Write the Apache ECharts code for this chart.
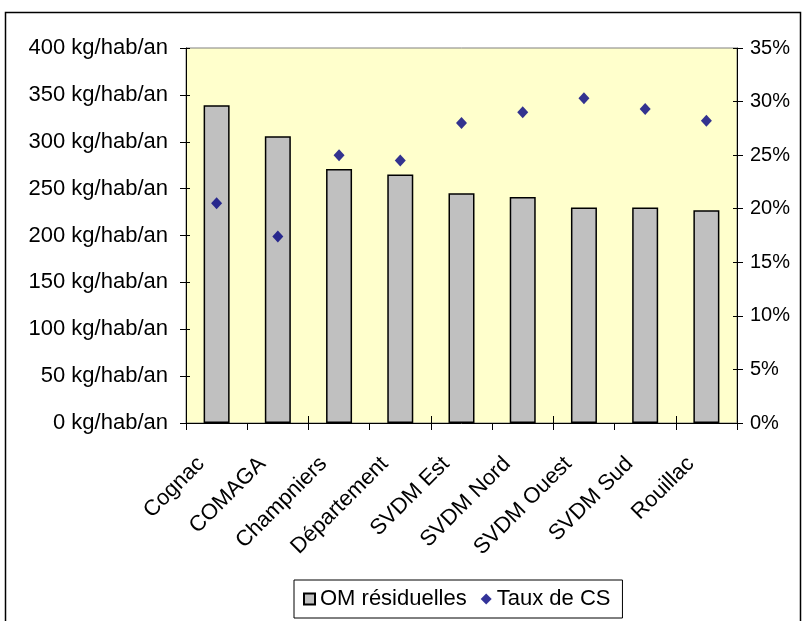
<!DOCTYPE html>
<html>
<head>
<meta charset="utf-8">
<script src="https://cdn.jsdelivr.net/npm/echarts@6/dist/echarts.min.js"></script>
<style>
  html, body { margin: 0; padding: 0; background: #ffffff; }
  #chart { width: 807px; height: 621px; }
</style>
</head>
<body>
<div id="chart"></div>
<script>
// Collectivités comparées
const categories = ['Cognac', 'COMAGA', 'Champniers', 'Département', 'SVDM Est', 'SVDM Nord', 'SVDM Ouest', 'SVDM Sud', 'Rouillac'];
// Ordures ménagères résiduelles (kg/hab/an)
const omResiduelles = [339, 306, 271, 265, 245, 241, 230, 230, 227];
// Taux de collecte sélective (%)
const tauxCS = [20.5, 17.4, 25.0, 24.5, 28.0, 29.0, 30.3, 29.3, 28.2];
// Graduations des axes
const leftTicks = [0, 50, 100, 150, 200, 250, 300, 350, 400];
const rightTicks = [0, 5, 10, 15, 20, 25, 30, 35];

const FONT = '"Liberation Sans", Arial, sans-serif';
const chart = echarts.init(document.getElementById('chart'), null, { renderer: 'canvas' });

const leftMax = leftTicks[leftTicks.length - 1];
const leftStep = leftTicks[1] - leftTicks[0];
const rightMax = rightTicks[rightTicks.length - 1];
const rightStep = rightTicks[1] - rightTicks[0];

const tickStyle = { color: '#000', width: 1 };

chart.setOption({
  animation: false,
  backgroundColor: '#ffffff',
  textStyle: { fontFamily: FONT },
  graphic: [
    {
      type: 'rect',
      shape: { x: 5.5, y: 12.5, width: 795, height: 640 },
      style: { fill: 'none', stroke: '#000', lineWidth: 1.5 },
      silent: true,
      z: 100
    }
  ],
  grid: {
    left: 186, right: 70, top: 48, bottom: 198,
    show: true,
    backgroundColor: '#FFFFCC',
    borderColor: '#808080',
    borderWidth: 1
  },
  legend: {
    left: 294, top: 580,
    padding: [8, 12, 8, 9],
    backgroundColor: '#fff',
    borderColor: '#000',
    borderWidth: 1,
    itemGap: 14,
    itemWidth: 11, itemHeight: 11,
    textStyle: { fontFamily: FONT, fontSize: 22, color: '#000' },
    data: [
      { name: 'OM résiduelles', icon: 'rect' },
      { name: 'Taux de CS', icon: 'diamond' }
    ]
  },
  xAxis: [
    {
      type: 'category',
      data: categories,
      position: 'bottom',
      axisLine: { show: true, lineStyle: { color: '#000', width: 1 } },
      axisTick: { show: true, inside: false, length: 7, lineStyle: tickStyle },
      axisLabel: {
        rotate: 45, margin: 22, color: '#000',
        fontFamily: FONT, fontSize: 22, interval: 0,
        padding: [0, 22, 0, 0]
      },
      splitLine: { show: false }
    },
    {
      type: 'category',
      data: categories,
      position: 'bottom',
      axisLine: { show: false },
      axisTick: { show: true, inside: true, length: 7, lineStyle: tickStyle },
      axisLabel: { show: false },
      splitLine: { show: false }
    }
  ],
  yAxis: [
    {
      type: 'value',
      min: 0, max: leftMax, interval: leftStep,
      position: 'left',
      axisLine: { show: true, lineStyle: { color: '#000', width: 1 } },
      axisTick: { show: true, inside: false, length: 6, lineStyle: tickStyle },
      axisLabel: {
        margin: 18, color: '#000', fontFamily: FONT, fontSize: 22,
        formatter: v => v + ' kg/hab/an'
      },
      splitLine: { show: false }
    },
    {
      type: 'value',
      min: 0, max: rightMax, interval: rightStep,
      position: 'right',
      axisLine: { show: true, lineStyle: { color: '#000', width: 1 } },
      axisTick: { show: true, inside: false, length: 6, lineStyle: tickStyle },
      axisLabel: {
        margin: 13, color: '#000', fontFamily: FONT, fontSize: 20,
        formatter: v => v + '%'
      },
      splitLine: { show: false }
    },
    {
      type: 'value',
      min: 0, max: leftMax, interval: leftStep,
      position: 'left',
      axisLine: { show: false },
      axisTick: { show: true, inside: true, length: 4, lineStyle: tickStyle },
      axisLabel: { show: false },
      splitLine: { show: false }
    },
    {
      type: 'value',
      min: 0, max: rightMax, interval: rightStep,
      position: 'right',
      axisLine: { show: false },
      axisTick: { show: true, inside: true, length: 4, lineStyle: tickStyle },
      axisLabel: { show: false },
      splitLine: { show: false }
    }
  ],
  series: [
    {
      name: 'OM résiduelles',
      type: 'bar',
      xAxisIndex: 0, yAxisIndex: 0,
      data: omResiduelles,
      barWidth: 26,
      itemStyle: { color: '#C0C0C0', borderColor: '#000', borderWidth: 1.5 }
    },
    {
      name: 'Taux de CS',
      type: 'scatter',
      xAxisIndex: 0, yAxisIndex: 1,
      data: tauxCS,
      symbol: 'diamond',
      symbolSize: [11, 12],
      itemStyle: { color: '#000080' },
      z: 5
    }
  ]
});
</script>
</body>
</html>
